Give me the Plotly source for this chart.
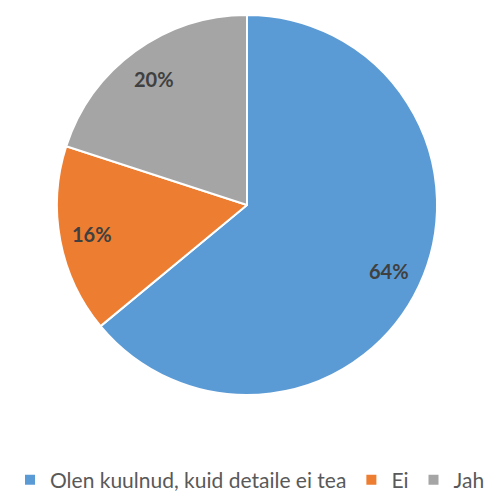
import math
import plotly.graph_objects as go

labels = ["Olen kuulnud, kuid detaile ei tea", "Ei", "Jah"]
values = [64, 16, 20]
colors = ["#5B9BD5", "#ED7D31", "#A5A5A5"]

W = H = 493
OFF = 8  # default page body margin
cx, cy, r = 247 - OFF, 207 - OFF, 192  # pixel center/radius of pie within figure
dom_x = [(cx - r) / W, (cx + r) / W]
dom_y = [(H - cy - r) / H, (H - cy + r) / H]

fig = go.Figure(go.Pie(
    labels=labels, values=values, sort=False, direction="clockwise", rotation=0,
    marker=dict(colors=colors, line=dict(color="white", width=2)),
    textinfo="none", hoverinfo="label+percent",
    domain=dict(x=dom_x, y=dom_y),
))

total = sum(values)
cum = 0
anns = []
for v in values:
    mid = (cum + v / 2) / total * 2 * math.pi
    cum += v
    px = cx + 0.82 * r * math.sin(mid)
    py = cy - 0.82 * r * math.cos(mid)
    anns.append(dict(x=px / W, y=1 - py / H, xref="paper", yref="paper",
                     xanchor="center", yanchor="middle",
                     text=f"<b>{round(v / total * 100)}%</b>", showarrow=False,
                     font=dict(family="Lato, Open Sans, sans-serif", size=20, color="#404040")))

fig.update_layout(
    width=W, height=H, margin=dict(l=0, r=0, t=0, b=0),
    paper_bgcolor="white", plot_bgcolor="white",
    annotations=anns,
    showlegend=True,
    legend=dict(orientation="h", x=(250 - OFF) / W, xanchor="center", y=1 - (485 - OFF) / H, yanchor="middle",
                font=dict(family="Lato, Open Sans, sans-serif", size=21, color="#595959"),
                itemwidth=30, traceorder="normal"),
)
fig.write_html("out.html")
